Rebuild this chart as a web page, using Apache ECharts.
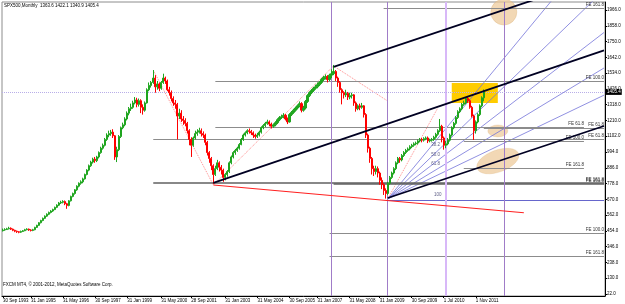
<!DOCTYPE html>
<html>
<head>
<meta charset="utf-8">
<script src="https://cdn.jsdelivr.net/npm/echarts/dist/echarts.min.js"></script>
<style>
  html, body { margin: 0; padding: 0; background: #fff; }
  #chart { width: 625px; height: 304px; }
</style>
</head>
<body>
<div id="chart"></div>
<script>
// monthly bars, one slot each
var firstOpen = 455;
var closes = [460,463,468,472,466,458,452,448,445,450,455,462,466,460,457,462,
  478,492,510,525,540,555,568,580,590,600,615,630,645,650,655,640,628,660,
  690,710,735,760,780,790,810,840,870,900,925,945,935,960,990,1020,1040,
  1080,1110,1120,1130,1105,960,1010,1100,1160,1180,1220,1260,1290,1300,1330,1350,1320,1345,1300,1280,1330,1420,1450,1470,1500,1440,1460,1430,1470,1500,1480,1420,1400,1360,1330,1320,1240,1260,1220,1210,1190,1140,1080,
  1040,1090,1120,1130,1140,1120,1110,1060,990,950,900,840,880,920,890,870,820,840,860,920,960,990,1005,1020,1045,1080,1110,1125,1140,1135,1125,1110,1100,1110,1130,1160,1175,1190,1200,1185,1170,1180,1195,1215,1230,1235,1245,1220,1200,1250,1265,1280,1295,1310,1325,1280,1295,
  1340,1380,1400,1415,1430,1440,1455,1470,1490,1505,1510,1490,1520,1530,1545,1500,1470,1420,1400,1385,1395,1370,1380,1385,1330,1290,1310,1300,1310,1250,1110,1020,950,880,860,880,850,800,770,730,710,780,820,850,880,920,950,940,
  970,990,1005,1015,1030,1040,1050,1055,1070,1080,1075,1085,1090,1070,1075,1080,1095,1115,1140,1170,1090,1040,1050,1075,1110,1160,1190,1230,1270,1290,1320,1330,1360,1345,1300,1240,1140,1200,1250,1310,1365,1405];
var highs = [470,472,475,482,478,470,462,456,452,456,460,468,472,470,465,468,
  482,496,514,530,545,560,574,586,596,606,620,636,652,660,664,662,646,665,
  695,716,740,766,786,800,818,846,876,908,934,955,960,968,998,1030,1052,
  1090,1122,1140,1145,1150,1110,1030,1110,1168,1195,1232,1272,1302,1325,1345,1370,1365,1360,1355,1320,1340,1430,1470,1480,1555,1520,1480,1470,1480,1530,1510,1490,1440,1415,1375,1350,1330,1290,1280,1240,1225,1200,1150,
  1095,1100,1140,1150,1160,1155,1135,1120,1070,1000,960,910,900,940,930,905,880,850,870,930,970,1000,1015,1030,1055,1090,1120,1135,1150,1155,1145,1135,1120,1125,1140,1170,1185,1200,1215,1210,1195,1190,1205,1225,1240,1250,1260,1255,1230,1260,1275,1290,1305,1320,1340,1335,1310,
  1350,1390,1410,1425,1440,1455,1470,1480,1500,1515,1525,1520,1530,1560,1590,1555,1510,1480,1430,1410,1420,1405,1400,1400,1390,1340,1320,1325,1330,1315,1260,1120,1030,960,900,900,895,860,820,780,745,790,830,860,890,930,960,960,
  980,1000,1015,1025,1040,1050,1060,1065,1080,1090,1090,1095,1100,1100,1085,1090,1105,1125,1150,1220,1180,1100,1070,1090,1120,1170,1200,1240,1280,1300,1330,1345,1370,1375,1355,1310,1250,1210,1260,1320,1375,1422];
var lows = [450,455,460,464,460,452,445,440,438,440,446,452,458,454,450,452,
  458,474,488,505,520,535,550,562,574,584,596,610,624,638,642,630,605,622,
  655,684,702,728,752,770,780,805,834,862,892,915,920,925,950,982,1010,
  1032,1070,1095,1105,1090,940,925,1000,1090,1150,1170,1210,1245,1275,1290,1320,1300,1305,1260,1250,1270,1325,1410,1435,1460,1400,1420,1410,1420,1460,1460,1410,1380,1340,1310,1290,1080,1220,1200,1180,1170,1120,1040,
  960,1030,1080,1105,1120,1100,1090,1040,970,920,870,776,830,870,860,840,790,800,825,850,910,950,975,995,1010,1040,1070,1100,1115,1120,1110,1090,1085,1090,1100,1120,1150,1165,1180,1170,1155,1160,1170,1185,1205,1220,1225,1210,1185,1195,1240,1255,1270,1285,1300,1265,1270,
  1285,1330,1370,1390,1405,1420,1430,1445,1460,1480,1490,1470,1480,1500,1520,1480,1440,1400,1320,1360,1370,1350,1355,1360,1310,1270,1280,1280,1290,1230,1090,990,920,840,830,840,820,770,740,700,675,700,770,810,840,870,910,920,
  930,960,980,995,1005,1020,1030,1040,1045,1060,1060,1065,1075,1055,1060,1065,1070,1085,1105,1130,1060,1010,1020,1040,1065,1100,1150,1180,1220,1260,1280,1310,1320,1330,1290,1230,1076,1120,1190,1240,1300,1341];

var nSlots = 301; // bars plus the empty space on the right
var tickIdx = [0,14,30,46,62,79,94,111,127,143,157,173,188,204,220,236];
var tickLabels = ['30 Sep 1993','31 Jan 1995','31 May 1996','30 Sep 1997','31 Jan 1999','31 May 2000','28 Sep 2001','31 Jan 2003','31 May 2004','30 Sep 2005','31 Jan 2007','31 May 2008','31 Jan 2009','30 Sep 2009','1 Jul 2010','1 Nov 2011'];
var priceTicks = [22,130,238,346,454,562,670,778,886,994,1102,1210,1318,1426,1534,1642,1750,1858,1966];
var lastPrice = 1405.4;

// fibo expansion levels: price, from slot, to slot, text
var levelPrice = [1976, 1475, 1163, 1155, 1083, 1069, 882, 782, 775, 440, 282];
var levelFrom  = [190, 106, 106, 240, 75, 230, 230, 75, 165, 163, 163];
var levelTo    = [300, 300, 290, 300, 300, 290, 290, 300, 300, 300, 300];
var levelText  = ['FE 161.8','FE 100.0','FE 61.8','FE 61.8','FE 61.8','FE 100.0','FE 161.8','FE 161.8','FE 161.8','FE 100.0','FE 161.8'];

var vLines = [164, 192, 221, 250];

// trend lines [slot1, price1, slot2, price2]
var channelLines = [[165,1576,300,2196],[105,782,300,1690],[192,679,300,1172]];
var supportLine = [105,768,260,578];
var fanOrigin = [192, 672];
var fanEnds = [2464, 2101, 1812, 1569, 1383];
var baseLine = [192, 665, 300, 665];
var dottedLines = [[75,1555,105,768],[105,768,165,1583],[165,1583,192,1343],[192,672,217,1295]];

var fanLabels = ['38.2','50.0','61.8','100'];
var fanLabelPos = [[216,1042],[216,973],[216,912],[217,700]];

var ellipseCenter = [[250,1952],[247,1138],[247,932]];
var ellipseSize = [[6.5,89],[5,41],[11,75]]; // half widths in slots / price
var ellipseTilt = [0, 0, 0.35];
var boxCorner = [[224,1466],[247,1329]];

var FONT = 'Liberation Sans';
var FS = 4.5;

var cats = [];
for (var i = 0; i < nSlots; i++) cats.push(String(i));
var labelAt = {};
tickIdx.forEach(function (t, k) { labelAt[t] = tickLabels[k]; });

var candles = closes.map(function (c, i) {
  var o = i === 0 ? firstOpen : closes[i - 1];
  return [o, c, lows[i], highs[i]];
});

var levelMarks = levelPrice.map(function (p, k) {
  var dark = (p === 782 || p === 775);
  return [
    { coord: [levelFrom[k], p],
      lineStyle: { color: dark ? '#606060' : '#8c8c8c', width: dark ? 1.5 : 1, type: 'solid' },
      label: { show: true, position: 'insideEndTop', formatter: levelText[k], color: '#333', fontSize: FS, fontFamily: FONT, distance: [0, 1] } },
    { coord: [levelTo[k], p] }
  ];
});
levelMarks.push([
  { coord: [baseLine[0], baseLine[1]], lineStyle: { color: '#6666cc', width: 1, type: 'solid' }, label: { show: false } },
  { coord: [baseLine[2], baseLine[3]] }
]);
var vMarks = vLines.map(function (v, k) {
  var light = k === 2;
  return { xAxis: v, lineStyle: { color: light ? '#d8b8f8' : '#a07cc8', width: light ? 2 : 1, type: 'solid' }, label: { show: false } };
});
var priceMark = {
  yAxis: lastPrice,
  lineStyle: { color: '#b8aee8', width: 1, type: 'dotted' },
  label: { show: true, position: 'end', formatter: lastPrice.toFixed(1), color: '#fff', backgroundColor: '#000', padding: [1, 1, 0, 1], fontSize: FS, fontFamily: FONT, distance: 1 }
};

function seg(s, color, width, type, z) {
  return {
    type: 'line', data: [[s[0], s[1]], [s[2], s[3]]], symbol: 'none', silent: true, z: z || 5,
    lineStyle: { color: color, width: width, type: type || 'solid' }, clip: true
  };
}

var series = [];
series.push({
  type: 'custom', z: 1, silent: true,
  data: ellipseCenter.map(function (c, k) { return [c[0], c[1], ellipseSize[k][0], ellipseSize[k][1], ellipseTilt[k]]; }),
  renderItem: function (params, api) {
    var p = api.coord([api.value(0), api.value(1)]);
    var band = api.size([1, 1])[0];
    var rx = band * api.value(2);
    var top = api.coord([api.value(0), api.value(1) + api.value(3)]);
    var ry = Math.abs(p[1] - top[1]);
    return {
      type: 'circle', x: p[0], y: p[1], rotation: api.value(4), scaleY: ry / rx,
      shape: { cx: 0, cy: 0, r: rx },
      style: { fill: 'rgba(236,200,150,0.7)', stroke: 'rgba(215,170,110,0.6)', lineWidth: 0.5 }
    };
  },
  markArea: {
    silent: true, itemStyle: { color: '#ffcc00' },
    data: [[{ coord: boxCorner[0] }, { coord: boxCorner[1] }]]
  }
});
series.push({
  type: 'candlestick', z: 6, data: candles, barWidth: 1.6,
  itemStyle: { color: '#1fa51f', color0: '#ff0000', borderColor: '#1fa51f', borderColor0: '#ff0000', borderWidth: 1 },
  markLine: { silent: true, symbol: 'none', animation: false, data: levelMarks.concat(vMarks).concat([priceMark]) }
});
channelLines.forEach(function (s) { series.push(seg(s, '#000022', 1.8, 'solid', 8)); });
series.push(seg(supportLine, '#ff2020', 1.2, 'solid', 8));
fanEnds.forEach(function (v) { series.push(seg([fanOrigin[0], fanOrigin[1], 300, v], '#7373d9', 0.8, 'solid', 4)); });
dottedLines.forEach(function (s) { series.push(seg(s, '#ff8c8c', 1, 'dotted', 4)); });
series.push({
  type: 'scatter', z: 9, symbolSize: 0, silent: true,
  data: fanLabelPos.map(function (p, k) { return { value: p, name: fanLabels[k] }; }),
  label: { show: true, position: 'inside', formatter: '{b}', color: '#333366', fontSize: FS, fontFamily: FONT }
});

var chart = echarts.init(document.getElementById('chart'));
chart.setOption({
  animation: false,
  backgroundColor: '#fff',
  grid: { left: 2, right: 20, top: 2, bottom: 8, show: true, borderColor: '#8c8c8c', borderWidth: 1 },
  graphic: [
    { type: 'text', left: 4, top: 3, style: { text: 'SPX500,Monthly  1363.6 1422.1 1340.9 1405.4', fill: '#000', font: FS + 'px "' + FONT + '"' } },
    { type: 'text', left: 3, top: 282, style: { text: 'FXCM MT4, \u00a9 2001-2012, MetaQuotes Software Corp.', fill: '#000', font: FS + 'px "' + FONT + '"' } }
  ],
  xAxis: {
    type: 'category', data: cats, boundaryGap: true,
    axisLine: { show: true, lineStyle: { color: '#000', width: 1 } },
    axisTick: { show: true, alignWithLabel: true, length: 2, interval: function (i) { return i in labelAt; }, lineStyle: { color: '#000' } },
    axisLabel: {
      show: true, showMinLabel: true, interval: function (i) { return i in labelAt; },
      formatter: function (v, i) { return labelAt[i] || ''; },
      align: 'left', margin: 2, fontSize: FS, fontFamily: FONT, color: '#000'
    },
    splitLine: { show: false }
  },
  yAxis: {
    type: 'value', position: 'right', min: 8.3, max: 2020.7, scale: true,
    axisLine: { show: true, lineStyle: { color: '#000', width: 1 } },
    axisTick: { show: true, length: 2, customValues: priceTicks, lineStyle: { color: '#000' } },
    axisLabel: { show: true, customValues: priceTicks, formatter: function (v) { return v.toFixed(1); }, margin: 2, fontSize: FS, fontFamily: FONT, color: '#000' },
    splitLine: { show: false }
  },
  series: series
});
</script>
</body>
</html>
